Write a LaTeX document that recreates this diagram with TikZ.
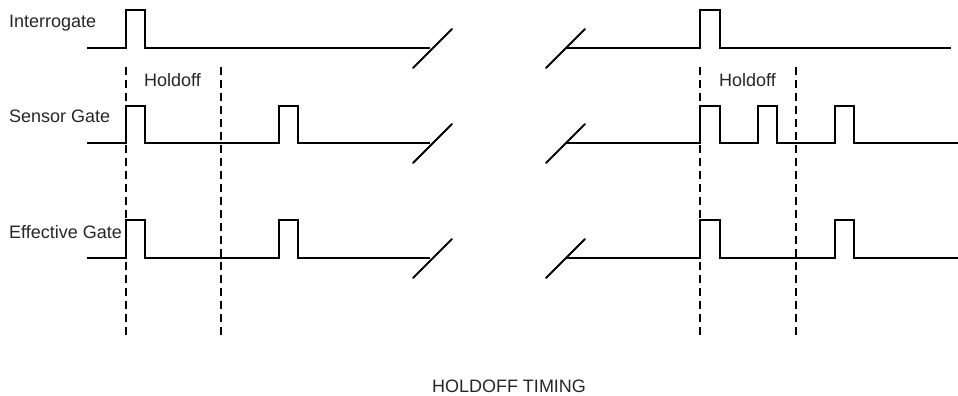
\documentclass[tikz,border=0pt]{standalone}
\usepackage{fontspec}
\setmainfont{Liberation Sans}
\begin{document}
\begin{tikzpicture}[x=1pt,y=-1pt,
  sig/.style={line width=2pt,line cap=butt,line join=miter},
  brk/.style={line width=2pt,line cap=round},
  hold/.style={line width=2pt,dash pattern=on 8pt off 5pt},
  lbl/.style={inner sep=0pt,anchor=base west,font=\fontsize{18}{21}\selectfont,text=black!85}]
\useasboundingbox (0,0) rectangle (958,396);
% Interrogate
\draw[sig] (87,48) -- (126,48) -- (126,10) -- (145,10) -- (145,48) -- (430,48);
\draw[brk] (413,68) -- (452,29);
\draw[brk] (546,68) -- (585,29);
\draw[sig] (566,48) -- (700,48) -- (700,10) -- (720,10) -- (720,48) -- (951,48);
% Sensor Gate
\draw[sig] (87,143) -- (126,143) -- (126,106) -- (145,106) -- (145,143) -- (279,143) -- (279,106) -- (298,106) -- (298,143) -- (430,143);
\draw[brk] (413,163) -- (452,124);
\draw[brk] (546,163) -- (585,124);
\draw[sig] (566,143) -- (700,143) -- (700,106) -- (720,106) -- (720,143) -- (758,143) -- (758,106) -- (777,106) -- (777,143) -- (835,143) -- (835,106) -- (854,106) -- (854,143) -- (958,143);
% Effective Gate
\draw[sig] (87,258) -- (126,258) -- (126,220) -- (145,220) -- (145,258) -- (279,258) -- (279,220) -- (298,220) -- (298,258) -- (430,258);
\draw[brk] (413,278) -- (452,239);
\draw[brk] (546,278) -- (585,239);
\draw[sig] (566,258) -- (700,258) -- (700,220) -- (720,220) -- (720,258) -- (835,258) -- (835,220) -- (854,220) -- (854,258) -- (958,258);
% Holdoff markers
\draw[hold] (126,67) -- (126,337);
\draw[hold] (221,67) -- (221,337);
\draw[hold] (700,67) -- (700,337);
\draw[hold] (796,67) -- (796,337);
% Labels
\node[lbl] (tInt) at (9,28) {Interrogate};
\node[lbl] (tSen) at (9,122.5) {Sensor Gate};
\node[lbl] (tEff) at (9,238.5) {Effective Gate};
\node[lbl] (tHo1) at (144,86) {Holdoff};
\node[lbl] (tHo2) at (719,86) {Holdoff};
\node[lbl,anchor=base] (tTit) at (509,392.5) {HOLDOFF TIMING};
\end{tikzpicture}
\end{document}
